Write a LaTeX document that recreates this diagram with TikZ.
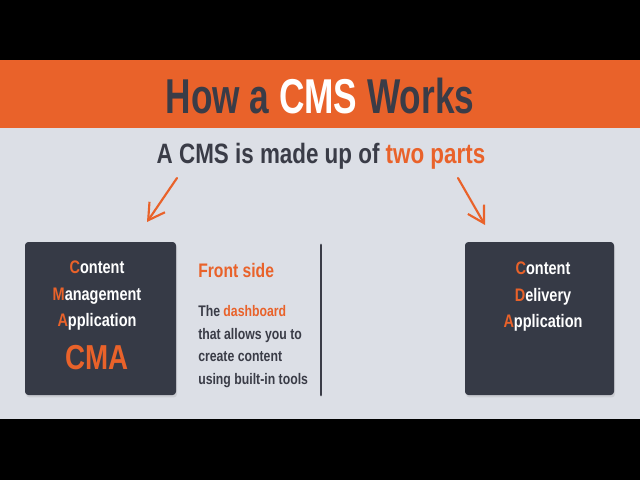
\documentclass[tikz,border=0pt]{standalone}
\usepackage{fontspec}
\setmainfont{Liberation Sans}
\newfontfamily\headfont[FakeStretch=0.72]{Liberation Sans}
\newfontfamily\condfont[FakeStretch=0.80]{Liberation Sans}
\usepackage{xcolor}
\usetikzlibrary{positioning,arrows.meta,shadows}

\definecolor{cmsorange}{HTML}{E9622A}
\definecolor{cmsdark}{HTML}{363A46}
\definecolor{cmstext}{HTML}{3A3C47}
\definecolor{cmsbg}{HTML}{DCDFE6}
\newcommand{\ini}[1]{\textcolor{cmsorange}{#1}}

\begin{document}
\begin{tikzpicture}[
  x=0.75pt, y=-0.75pt,
  part/.style={fill=cmsdark, rounded corners=2.5pt, drop shadow={opacity=0.18, shadow xshift=0.8pt, shadow yshift=-1.8pt}},
  parttxt/.style={text=white, align=center, inner sep=0pt, font=\condfont\bfseries\fontsize{13.6}{19.6}\selectfont},
  note/.style={text=cmstext, align=left, inner sep=0pt, font=\condfont\bfseries\fontsize{11.5}{17}\selectfont},
  pointer/.style={draw=cmsorange, line width=1.6pt, line cap=round, -{Straight Barb[length=12pt, width=14pt]}},
  divider/.style={draw=cmstext, line width=2.2pt, line cap=round}]

% Frame: black bars, banner, grey panel
\fill[black] (0,0) rectangle (640,480);
\fill[cmsbg] (0,128) rectangle (640,419);
\fill[cmsorange] (0,60) rectangle (640,128);
\useasboundingbox (0,0) rectangle (640,480);

% Headings
\node[anchor=base, inner sep=0pt, text=cmstext, font=\headfont\bfseries\fontsize{36.7}{40}\selectfont] (title) at (320,113) {How a \textcolor{white}{CMS} Works};
\node[anchor=base, inner sep=0pt, text=cmstext, font=\condfont\bfseries\fontsize{21}{24}\selectfont] (intro) at (321,163) {A CMS is made up of \textcolor{cmsorange}{two parts}};

% The two parts
\path[part] (25,242) rectangle (176,395);
\coordinate (cmatop) at (100,242);
\path[part] (465,242) rectangle (614,395);
\coordinate (cdatop) at (540,242);

\node[parttxt, anchor=north] (cmaname) at (97,261) {\ini{C}ontent\\\ini{M}anagement\\\ini{A}pplication};
\node[anchor=north, inner sep=0pt, text=cmsorange, font=\condfont\bfseries\fontsize{26}{28}\selectfont] (cma) at (97,345) {CMA};
\node[parttxt, anchor=north] (cdaname) at (543,262) {\ini{C}ontent\\\ini{D}elivery\\\ini{A}pplication};

% Front side description
\node[anchor=base west, inner sep=0pt, text=cmsorange, font=\condfont\bfseries\fontsize{14.7}{17}\selectfont] (front) at (198,277) {Front side};
\node[note, anchor=north west] (frontnote) at (198,305) {The \textcolor{cmsorange}{dashboard}\\that allows you to\\create content\\using built-in tools};

\coordinate (divtop) at (321,245);
\coordinate (divbot) at (321,395);
\draw[divider] (divtop) -- (divbot);

% Arrows down to each part
\coordinate (lstart) at (177,178);
\coordinate (lend) at (147,222);
\coordinate (rstart) at (458,178);
\coordinate (rend) at (485,225);
\draw[pointer] (lstart) -- (lend);
\draw[pointer] (rstart) -- (rend);
\end{tikzpicture}
\end{document}
